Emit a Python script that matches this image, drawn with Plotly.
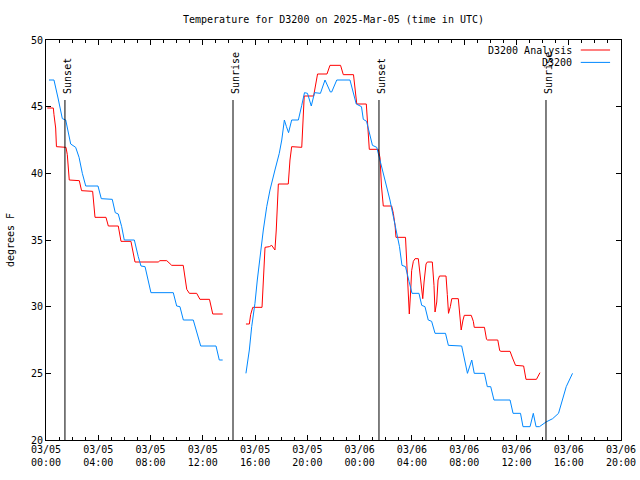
import plotly.graph_objects as go
from datetime import datetime, timedelta

BASE = datetime(2025, 3, 5)

# ---- D3200 Analysis (red): hours since 2025-03-05 00:00 UTC, degrees F ----
analysis_hours_1 = [0.1, 0.56, 0.61, 0.74, 0.80, 1.53, 1.63, 1.78, 2.55, 2.72, 3.57, 3.75, 4.59, 4.77,
                    5.53, 5.74, 6.5, 6.63, 6.81, 8.59, 8.72, 9.24, 9.62, 10.5, 10.64, 10.77, 10.97,
                    11.53, 11.78, 12.51, 12.76, 13.52]
analysis_temp_1 = [44.9, 44.9, 44.4, 43.4, 42.0, 41.95, 41.4, 39.5, 39.45, 38.7, 38.65, 36.7, 36.7, 36.05,
                   36.05, 34.9, 34.9, 34.2, 33.35, 33.35, 33.45, 33.45, 33.1, 33.1, 32.2, 31.3, 31.0,
                   31.0, 30.55, 30.55, 29.45, 29.45]
analysis_hours_2 = [15.30, 15.56, 15.66, 15.82, 16.53, 16.64, 16.76, 17.09, 17.27, 17.52, 17.62, 17.78,
                    18.54, 18.67, 18.80, 19.57, 19.67, 19.76, 20.48, 20.66, 20.78, 21.5, 21.73, 22.54,
                    22.75, 23.53, 23.65, 23.78, 24.51, 24.60, 24.74, 25.43, 25.56, 25.67, 25.81, 26.45,
                    26.58, 26.71, 26.78, 27.51, 27.60, 27.68, 27.80, 27.91, 27.98, 28.11, 28.24, 28.49,
                    28.62, 28.75, 28.83, 28.93, 29.08, 29.18, 29.56, 29.69, 29.77, 29.9, 30.0, 30.11,
                    30.61, 30.71, 30.80, 30.94, 31.05, 31.55, 31.68, 31.77, 31.91, 32.01, 32.54, 32.70,
                    32.77, 33.55, 33.71, 33.79, 34.57, 34.72, 34.82, 35.51, 35.70, 35.93, 36.55, 36.73,
                    37.53, 37.69, 37.80]
analysis_temp_2 = [28.7, 28.7, 29.4, 29.95, 29.95, 32.2, 34.45, 34.5, 34.6, 34.25, 35.75, 39.2,
                   39.2, 41.0, 42.0, 41.95, 44.0, 45.8, 45.8, 47.0, 47.45, 47.45, 48.1, 48.1,
                   47.4, 47.4, 46.5, 45.2, 45.2, 43.6, 41.8, 41.8, 41.15, 39.05, 37.55, 37.55,
                   37.0, 36.1, 35.2, 35.2, 33.7, 32.4, 29.45, 31.25, 32.7, 33.4, 33.6, 33.6,
                   32.4, 30.95, 30.6, 31.85, 33.2, 33.35, 33.35, 31.6, 29.6, 30.35, 32.0, 32.3,
                   32.3, 30.9, 29.5, 30.0, 30.6, 30.6, 29.45, 28.25, 29.0, 29.35, 29.35, 28.9,
                   28.45, 28.45, 27.55, 27.5, 27.5, 26.7, 26.65, 26.65, 26.15, 25.6, 25.55, 24.55,
                   24.55, 24.9, 25.05]

# ---- D3200 (blue) ----
sensor_hours_1 = [0.23, 0.61, 0.92, 1.25, 1.51, 1.63, 1.89, 2.27, 2.53, 2.78, 3.04, 3.98, 4.23, 5.07,
                  5.30, 5.53, 5.79, 5.99, 6.76, 7.06, 7.27, 7.58, 8.03, 9.74, 10.0, 10.25, 10.51,
                  11.27, 11.84, 13.01, 13.26, 13.52]
sensor_temp_1 = [47.0, 47.0, 45.65, 44.1, 44.0, 43.5, 42.2, 41.95, 41.2, 40.0, 39.05, 39.05, 38.1, 38.05,
                 37.05, 36.95, 36.0, 35.0, 35.0, 33.75, 33.05, 33.0, 31.05, 31.05, 30.05, 30.0, 29.0,
                 29.0, 27.05, 27.05, 26.0, 26.0]
sensor_hours_2 = [15.30, 15.56, 15.74, 15.99, 16.17, 16.38, 16.63, 16.89, 17.14, 17.52, 17.85, 18.04,
                  18.24, 18.40, 18.56, 18.80, 19.31, 19.57, 19.78, 20.01, 20.30, 20.55, 21.0, 21.35,
                  21.76, 21.86, 22.25, 23.26, 23.52, 23.74, 24.14, 24.28, 24.53, 24.74, 24.98, 25.31,
                  25.52, 25.81, 26.07, 26.32, 26.58, 26.84, 27.05, 27.24, 27.51, 27.78, 28.01, 28.54,
                  28.75, 29.0, 29.25, 29.51, 29.77, 30.57, 30.79, 31.81, 31.93, 32.25, 32.58, 32.77,
                  33.55, 33.77, 34.03, 34.28, 35.51, 35.74, 36.31, 36.50, 37.04, 37.29, 37.50, 37.76,
                  38.26, 38.77, 39.22, 39.46, 39.81, 40.29]
sensor_temp_2 = [25.0, 26.75, 28.5, 30.25, 32.0, 33.75, 35.75, 37.5, 38.75, 40.25, 41.5, 42.5,
                 44.0, 43.5, 43.05, 44.0, 44.0, 45.1, 46.05, 46.0, 45.05, 46.05, 46.0, 47.0,
                 46.1, 46.1, 47.0, 47.0, 46.05, 45.2, 45.0, 44.05, 43.9, 43.05, 42.1, 41.95,
                 41.15, 39.9, 38.98, 38.0, 36.75, 35.5, 34.5, 33.1, 33.0, 31.9, 31.0, 31.0,
                 30.1, 30.0, 29.0, 28.9, 28.0, 28.0, 27.1, 27.05, 26.5, 25.0, 26.0, 25.0,
                 25.0, 24.0, 24.0, 23.0, 23.0, 22.0, 22.0, 21.0, 21.0, 22.0, 21.0, 21.0,
                 21.35, 21.6, 22.0, 22.75, 24.0, 25.0]

# ---- Sun events ----
sun_event_hours = [1.45, 14.31, 25.48, 38.26]
sun_event_labels = ["Sunset", "Sunrise", "Sunset", "Sunrise"]
sun_line_top = 45.5

y_ticks = [20, 25, 30, 35, 40, 45, 50]
x_range_hours = [0, 44]

FONT = "DejaVu Sans Mono"


def to_time(hours):
    return [BASE + timedelta(hours=h) for h in hours]


def join(h1, t1, h2, t2):
    return to_time(h1) + [None] + to_time(h2), list(t1) + [None] + list(t2)


ax, ay = join(analysis_hours_1, analysis_temp_1, analysis_hours_2, analysis_temp_2)
sx, sy = join(sensor_hours_1, sensor_temp_1, sensor_hours_2, sensor_temp_2)

fig = go.Figure()
fig.add_trace(go.Scatter(x=ax, y=ay, mode="lines", name="D3200 Analysis",
                         line=dict(color="#ff0000", width=1), showlegend=False))
fig.add_trace(go.Scatter(x=sx, y=sy, mode="lines", name="D3200",
                         line=dict(color="#0088ff", width=1), showlegend=False))

for h, lab in zip(sun_event_hours, sun_event_labels):
    t = BASE + timedelta(hours=h)
    fig.add_shape(type="line", xref="x", yref="y", x0=t, x1=t, y0=y_ticks[0], y1=sun_line_top,
                  line=dict(color="black", width=1))
    fig.add_annotation(x=t, y=sun_line_top, xref="x", yref="y", text=lab, textangle=-90,
                       showarrow=False, yanchor="bottom", xanchor="center", xshift=2, yshift=4,
                       font=dict(family=FONT, size=10, color="black"))

# manual gnuplot-style legend (text left, sample right)
legend_items = [("D3200 Analysis", "#ff0000", 0.975), ("D3200", "#0088ff", 0.944)]
for name, col, yy in legend_items:
    fig.add_annotation(x=0.918, y=yy, xref="paper", yref="paper", text=name, showarrow=False,
                       xanchor="right", yanchor="middle", font=dict(family=FONT, size=10, color="black"))
    fig.add_shape(type="line", xref="paper", yref="paper", x0=0.930, x1=0.981, y0=yy, y1=yy,
                  line=dict(color=col, width=1))

fig.update_layout(
    width=640, height=480,
    margin=dict(l=46, r=19, t=40, b=40, autoexpand=False),
    paper_bgcolor="white", plot_bgcolor="white",
    font=dict(family=FONT, size=10, color="black"),
    title=dict(text="Temperature for D3200 on 2025-Mar-05 (time in UTC)", x=0.5, xanchor="center",
               xref="paper", y=1 - 19 / 480, yanchor="middle", font=dict(family=FONT, size=10),
               automargin=False),
    xaxis=dict(type="date", range=to_time(x_range_hours), tickformat="%m/%d<br>%H:%M",
               dtick=4 * 3600 * 1000, tick0=BASE, showgrid=False, zeroline=False, automargin=False,
               showline=True, linecolor="black", linewidth=1, mirror="allticks",
               ticks="inside", ticklen=5, tickcolor="black",
               minor=dict(dtick=3600 * 1000, ticks="inside", ticklen=3, tickcolor="black", showgrid=False),
               tickfont=dict(family=FONT, size=10)),
    yaxis=dict(range=[y_ticks[0], y_ticks[-1]], tickvals=y_ticks, showgrid=False, zeroline=False,
               automargin=False,
               showline=True, linecolor="black", linewidth=1, mirror="allticks",
               ticks="inside", ticklen=5, tickcolor="black",
               title=dict(text="degrees F", font=dict(family=FONT, size=10), standoff=14),
               tickfont=dict(family=FONT, size=10)),
)

fig.write_html("out.html", config={"displayModeBar": False},
               post_script="document.body.style.margin='0';")
